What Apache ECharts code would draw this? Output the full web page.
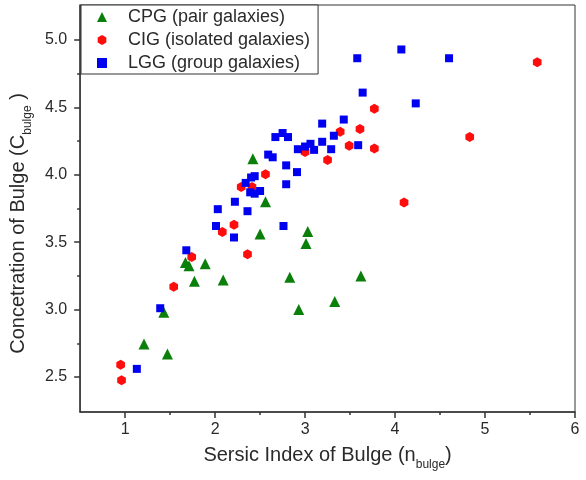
<!DOCTYPE html>
<html>
<head>
<meta charset="utf-8">
<script src="https://cdn.jsdelivr.net/npm/echarts@6/dist/echarts.min.js"></script>
<style>
html,body{margin:0;padding:0;background:#fff;}
#chart{width:586px;height:480px;}
</style>
</head>
<body>
<div id="chart"></div>
<script>
// CPG (pair galaxies): [n_bulge, C_bulge]
const cpgData = [
  [1.21, 2.745], [1.47, 2.67], [1.43, 2.98], [1.67, 3.35], [1.71, 3.325],
  [1.89, 3.34], [1.77, 3.21], [2.09, 3.22], [2.50, 3.56], [2.56, 3.80],
  [2.42, 4.12], [3.03, 3.58], [3.01, 3.49], [2.83, 3.24], [2.93, 3.00],
  [3.33, 3.06], [3.62, 3.25]
];
// CIG (isolated galaxies)
const cigData = [
  [0.95, 2.59], [0.96, 2.475], [1.54, 3.17], [1.74, 3.39], [2.08, 3.575],
  [2.21, 3.63], [2.36, 3.41], [2.29, 3.91], [2.41, 3.91], [2.56, 4.005],
  [3.00, 4.17], [3.25, 4.11], [3.39, 4.32], [3.49, 4.215], [3.61, 4.34],
  [3.77, 4.49], [3.77, 4.195], [4.10, 3.795], [4.83, 4.28], [5.58, 4.835]
];
// LGG (group galaxies)
const lggData = [
  [1.13, 2.56], [1.39, 3.01], [1.68, 3.44], [2.01, 3.62], [2.21, 3.535],
  [2.03, 3.745], [2.22, 3.80], [2.36, 3.73], [2.76, 3.62], [2.34, 3.94],
  [2.40, 3.98], [2.44, 3.99], [2.39, 3.87], [2.44, 3.86], [2.50, 3.88],
  [2.59, 4.15], [2.64, 4.13], [2.79, 4.07], [2.91, 4.02], [2.79, 3.93],
  [2.67, 4.28], [2.75, 4.31], [2.81, 4.28], [2.92, 4.19], [3.00, 4.21],
  [3.06, 4.23], [3.10, 4.185], [3.19, 4.245], [3.19, 4.38], [3.29, 4.19],
  [3.32, 4.29], [3.43, 4.41], [3.59, 4.22], [3.64, 4.61], [3.58, 4.865],
  [4.07, 4.93], [4.23, 4.53], [4.60, 4.865]
];
const seriesNames = ['CPG (pair galaxies)', 'CIG (isolated galaxies)', 'LGG (group galaxies)'];
const xTicks = [1, 2, 3, 4, 5, 6];
const xMinorTicks = [1.5, 2.5, 3.5, 4.5, 5.5];
const yTicks = [2.5, 3.0, 3.5, 4.0, 4.5, 5.0];
const yMinorTicks = [2.75, 3.25, 3.75, 4.25, 4.75];

const FONT = 'Liberation Sans, Arial, sans-serif';
const TXT = '#2a2a2a';
const AX = '#333333';
const hexagon = 'path://M0,-1L0.866,-0.5L0.866,0.5L0,1L-0.866,0.5L-0.866,-0.5Z';

const chart = echarts.init(document.getElementById('chart'), null, {renderer: 'canvas'});

const minorAxis = (extra) => Object.assign({
  type: 'value',
  axisLine: {show: false},
  axisLabel: {show: false},
  splitLine: {show: false},
  axisTick: {show: true, length: 3, lineStyle: {color: AX, width: 1.5}}
}, extra);

chart.setOption({
  animation: false,
  backgroundColor: '#ffffff',
  textStyle: {fontFamily: FONT},
  grid: {
    left: 79, right: 11, top: 5, bottom: 68,
    show: true, borderColor: AX, borderWidth: 1, backgroundColor: 'transparent'
  },
  legend: {
    orient: 'vertical',
    left: 81, top: 5,
    padding: [2, 8, 1, 16],
    itemWidth: 10, itemHeight: 10,
    itemGap: 3,
    backgroundColor: '#ffffff',
    borderColor: AX, borderWidth: 1,
    formatter: name => '{p| }' + name,
    textStyle: {fontSize: 18, color: TXT, fontFamily: FONT, lineHeight: 20,
      rich: {p: {width: 16, fontSize: 18}}},
    data: seriesNames
  },
  xAxis: [{
    type: 'value', min: 0.5, max: 6,
    name: '{n|Sersic Index of Bulge (n}{s|bulge}{n|)}',
    nameLocation: 'middle', nameGap: 33,
    nameTextStyle: {
      rich: {
        n: {fontSize: 20, color: TXT, fontFamily: FONT, lineHeight: 26, verticalAlign: 'top'},
        s: {fontSize: 12, color: TXT, fontFamily: FONT, verticalAlign: 'bottom'}
      }
    },
    axisLine: {show: true, onZero: false, lineStyle: {color: AX, width: 1.5}},
    axisTick: {show: true, length: 6, customValues: xTicks, lineStyle: {color: AX, width: 1.5}},
    axisLabel: {customValues: xTicks, fontSize: 16, color: TXT, margin: 10, fontFamily: FONT},
    splitLine: {show: false}
  }, minorAxis({min: 0.5, max: 6, position: 'bottom', axisTick: {show: true, length: 3, customValues: xMinorTicks, lineStyle: {color: AX, width: 1.5}}})],
  yAxis: [{
    type: 'value', min: 2.24, max: 5.26,
    name: '{n|Concetration of Bulge (C}{s|bulge}{n| )}',
    nameLocation: 'middle', nameGap: 40,
    nameTextStyle: {
      padding: [0, 30, 0, 0],
      rich: {
        n: {fontSize: 20, color: TXT, fontFamily: FONT, lineHeight: 26, verticalAlign: 'top'},
        s: {fontSize: 12, color: TXT, fontFamily: FONT, verticalAlign: 'bottom'}
      }
    },
    axisLine: {show: true, onZero: false, lineStyle: {color: AX, width: 1.5}},
    axisTick: {show: true, length: 6, customValues: yTicks, lineStyle: {color: AX, width: 1.5}},
    axisLabel: {customValues: yTicks, fontSize: 16, color: TXT, margin: 13, fontFamily: FONT,
      formatter: v => v.toFixed(1)},
    splitLine: {show: false}
  }, minorAxis({min: 2.24, max: 5.26, position: 'left', axisTick: {show: true, length: 3, customValues: yMinorTicks, lineStyle: {color: AX, width: 1.5}}})],
  series: [
    {name: seriesNames[0], type: 'scatter', data: cpgData, symbol: 'triangle', symbolSize: 11,
     itemStyle: {color: '#0a7f0a', opacity: 1}, z: 3},
    {name: seriesNames[1], type: 'scatter', data: cigData, symbol: hexagon, symbolSize: 10, symbolKeepAspect: true,
     itemStyle: {color: '#ff0d0d', opacity: 1}, z: 4},
    {name: seriesNames[2], type: 'scatter', data: lggData, symbol: 'rect', symbolSize: 8,
     itemStyle: {color: '#0000f0', opacity: 1}, z: 5}
  ]
});
</script>
</body>
</html>
